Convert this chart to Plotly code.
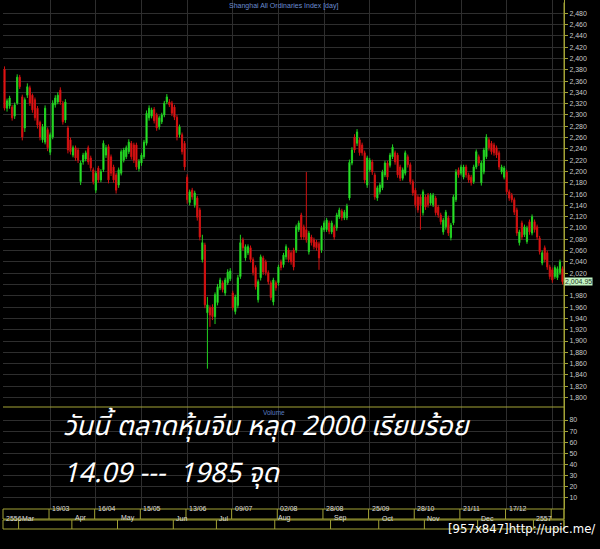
import pandas as pd
import plotly.graph_objects as go

# ---------------- data ----------------
HOLIDAYS = ['2013-04-04', '2013-04-05', '2013-04-29', '2013-04-30', '2013-05-01',
            '2013-06-10', '2013-06-11', '2013-06-12', '2013-09-19', '2013-09-20',
            '2013-10-01', '2013-10-02', '2013-10-03', '2013-10-04', '2013-10-07',
            '2014-01-01']
DATES = [d.strftime('%Y-%m-%d') for d in pd.bdate_range('2013-02-21', '2014-01-17')
         if d.strftime('%Y-%m-%d') not in HOLIDAYS]

OPEN = [2381, 2312, 2316, 2314, 2298, 2321, 2367, 2332, 2277, 2335,
        2348, 2335, 2327, 2312, 2287, 2256, 2252, 2274, 2234, 2261,
        2318, 2323, 2344, 2321, 2291, 2277, 2256, 2229, 2242, 2238,
        2182, 2217, 2222, 2242, 2224, 2203, 2167, 2206, 2185, 2203,
        2229, 2244, 2226, 2208, 2194, 2176, 2197, 2220, 2226, 2235,
        2250, 2247, 2247, 2205, 2215, 2226, 2250, 2295, 2298, 2310,
        2300, 2279, 2288, 2300, 2323, 2323, 2321, 2314, 2296, 2265,
        2265, 2250, 2190, 2145, 2167, 2141, 2153, 2132, 2044, 2070,
        1950, 1959, 1960, 1943, 1968, 1994, 2003, 1985, 2003, 2010,
        1985, 1952, 1963, 2014, 2079, 2047, 2056, 2065, 2044, 2030,
        1973, 2012, 2047, 2040, 2021, 2003, 1969, 2003, 2003, 2040,
        2035, 2049, 2061, 2056, 2061, 2061, 2097, 2123, 2102, 2097,
        2058, 2084, 2079, 2075, 2072, 2061, 2097, 2097, 2109, 2093,
        2102, 2100, 2120, 2130, 2118, 2118, 2153, 2215, 2261, 2250,
        2256, 2247, 2233, 2176, 2203, 2217, 2194, 2153, 2164, 2171,
        2194, 2215, 2211, 2226, 2233, 2229, 2208, 2188, 2197, 2226,
        2212, 2182, 2167, 2155, 2155, 2127, 2155, 2158, 2144, 2141,
        2153, 2137, 2123, 2093, 2102, 2118, 2083, 2109, 2150, 2203,
        2197, 2190, 2208, 2194, 2190, 2182, 2208, 2226, 2180, 2199,
        2226, 2256, 2250, 2247, 2242, 2233, 2199, 2190, 2199, 2164,
        2158, 2150, 2132, 2074, 2109, 2088, 2076, 2111, 2091, 2111,
        2102, 2082, 2038, 2065, 2056, 2031, 2026, 2014, 2012, 2021,
        2028]
HIGH = [2386, 2329, 2334, 2318, 2322, 2372, 2371, 2336, 2331, 2356,
        2352, 2338, 2331, 2316, 2290, 2284, 2317, 2278, 2269, 2326,
        2335, 2340, 2349, 2325, 2328, 2281, 2260, 2246, 2246, 2242,
        2219, 2233, 2237, 2246, 2228, 2207, 2201, 2210, 2204, 2255,
        2247, 2248, 2230, 2212, 2198, 2207, 2239, 2242, 2246, 2257,
        2254, 2251, 2251, 2222, 2233, 2256, 2308, 2317, 2313, 2314,
        2304, 2299, 2304, 2325, 2337, 2328, 2325, 2318, 2300, 2283,
        2269, 2254, 2195, 2168, 2171, 2166, 2157, 2136, 2088, 2074,
        1978, 1963, 1965, 1986, 2001, 2012, 2007, 2012, 2027, 2029,
        1989, 1982, 2017, 2088, 2083, 2071, 2071, 2069, 2048, 2034,
        2009, 2053, 2051, 2044, 2025, 2007, 2012, 2007, 2035, 2044,
        2056, 2071, 2065, 2060, 2065, 2106, 2113, 2127, 2106, 2199,
        2095, 2088, 2083, 2079, 2076, 2104, 2113, 2118, 2113, 2113,
        2106, 2127, 2136, 2134, 2132, 2143, 2221, 2243, 2266, 2275,
        2260, 2251, 2237, 2228, 2224, 2221, 2198, 2175, 2180, 2203,
        2219, 2219, 2233, 2248, 2237, 2233, 2212, 2207, 2237, 2230,
        2216, 2186, 2171, 2159, 2159, 2168, 2159, 2162, 2162, 2162,
        2157, 2141, 2127, 2118, 2132, 2122, 2109, 2159, 2204, 2207,
        2212, 2212, 2212, 2198, 2194, 2212, 2239, 2230, 2219, 2242,
        2266, 2260, 2254, 2251, 2246, 2237, 2212, 2210, 2203, 2168,
        2162, 2154, 2136, 2097, 2113, 2106, 2104, 2115, 2124, 2115,
        2106, 2086, 2060, 2069, 2060, 2035, 2030, 2034, 2032, 2044,
        2032]
LOW = [2308, 2306, 2311, 2290, 2293, 2318, 2346, 2255, 2270, 2330,
       2316, 2304, 2290, 2276, 2255, 2251, 2248, 2236, 2229, 2257,
       2313, 2319, 2318, 2283, 2286, 2232, 2230, 2225, 2219, 2215,
       2176, 2212, 2218, 2212, 2201, 2177, 2162, 2180, 2181, 2199,
       2224, 2179, 2192, 2180, 2161, 2171, 2193, 2216, 2222, 2231,
       2221, 2215, 2203, 2200, 2210, 2222, 2246, 2290, 2294, 2285,
       2272, 2274, 2284, 2296, 2319, 2314, 2298, 2291, 2255, 2260,
       2230, 2202, 2143, 2140, 2150, 2136, 2113, 2078, 2039, 1958,
       1851, 1925, 1937, 1930, 1963, 1990, 1986, 1980, 1999, 2006,
       1954, 1947, 1958, 2010, 2060, 2042, 2052, 2039, 2016, 1991,
       1968, 2007, 2017, 2016, 2000, 1972, 1963, 1989, 1998, 2025,
       2030, 2044, 2039, 2035, 2025, 2056, 2093, 2079, 2079, 2074,
       2053, 2069, 2062, 2060, 2026, 2056, 2093, 2093, 2089, 2089,
       2079, 2095, 2116, 2113, 2114, 2114, 2149, 2211, 2233, 2245,
       2228, 2228, 2179, 2171, 2199, 2194, 2150, 2148, 2160, 2167,
       2190, 2185, 2207, 2222, 2212, 2189, 2183, 2184, 2193, 2207,
       2177, 2157, 2136, 2127, 2097, 2122, 2132, 2136, 2140, 2137,
       2122, 2118, 2106, 2088, 2097, 2086, 2078, 2105, 2146, 2189,
       2193, 2186, 2189, 2180, 2175, 2178, 2204, 2210, 2175, 2195,
       2222, 2237, 2230, 2228, 2224, 2203, 2195, 2186, 2159, 2148,
       2145, 2123, 2086, 2069, 2079, 2084, 2072, 2088, 2087, 2092,
       2079, 2053, 2034, 2039, 2026, 2009, 2003, 2010, 2008, 2017,
       2000]
CLOSE = [2312, 2325, 2330, 2295, 2318, 2367, 2350, 2261, 2327, 2350,
         2321, 2309, 2295, 2282, 2261, 2279, 2312, 2242, 2265, 2321,
         2330, 2335, 2323, 2288, 2323, 2238, 2235, 2242, 2224, 2220,
         2215, 2229, 2233, 2217, 2206, 2182, 2197, 2185, 2200, 2250,
         2242, 2185, 2197, 2185, 2167, 2203, 2235, 2238, 2242, 2252,
         2226, 2220, 2208, 2218, 2229, 2252, 2303, 2312, 2309, 2290,
         2277, 2295, 2300, 2321, 2332, 2318, 2303, 2296, 2261, 2279,
         2235, 2208, 2150, 2164, 2155, 2162, 2119, 2084, 2074, 1964,
         1964, 1946, 1943, 1982, 1996, 2008, 1991, 2008, 2022, 2024,
         1959, 1978, 2012, 2074, 2065, 2067, 2067, 2044, 2021, 1996,
         2005, 2049, 2022, 2021, 2005, 1977, 2008, 1994, 2031, 2030,
         2052, 2067, 2044, 2040, 2031, 2102, 2109, 2084, 2084, 2079,
         2091, 2074, 2067, 2065, 2047, 2100, 2109, 2114, 2094, 2109,
         2084, 2123, 2132, 2118, 2128, 2139, 2216, 2238, 2238, 2270,
         2233, 2233, 2185, 2224, 2220, 2199, 2155, 2171, 2176, 2199,
         2215, 2190, 2229, 2243, 2217, 2194, 2188, 2203, 2233, 2212,
         2182, 2162, 2141, 2132, 2141, 2164, 2137, 2141, 2158, 2158,
         2127, 2123, 2111, 2114, 2128, 2091, 2105, 2155, 2199, 2194,
         2208, 2208, 2194, 2185, 2180, 2208, 2235, 2215, 2215, 2238,
         2261, 2242, 2235, 2233, 2229, 2208, 2208, 2206, 2164, 2153,
         2150, 2128, 2091, 2093, 2084, 2102, 2100, 2093, 2120, 2097,
         2084, 2058, 2056, 2044, 2031, 2014, 2008, 2030, 2028, 2040,
         2005]
LAST_PRICE = 2004.95

PRICE_TICKS = list(range(1800, 2500, 20))
PRICE_TICKTEXT = ['' if v == 2000 else f'{v:,}' for v in PRICE_TICKS]  # hidden behind last-price tag
VOLUME_TICKS = [10, 20, 30, 40, 50, 60, 70, 80]
DAY_TICKS = ['2013-03-19', '2013-04-16', '2013-05-15', '2013-06-13', '2013-07-09',
             '2013-08-02', '2013-08-28', '2013-09-25', '2013-10-28', '2013-11-21',
             '2013-12-17', '2014-01-13']
DAY_LABELS = ['19/03', '16/04', '15/05', '13/06', '09/07', '02/08', '28/08',
              '25/09', '28/10', '21/11', '17/12', '']
MONTH_TICKS = ['2013-03-01', '2013-04-01', '2013-05-02', '2013-06-03', '2013-07-01',
               '2013-08-01', '2013-09-02', '2013-10-08', '2013-11-01', '2013-12-02',
               '2014-01-02']
MONTH_LABELS = ['Mar', 'Apr', 'May', 'Jun', 'Jul', 'Aug', 'Sep', 'Oct', 'Nov', 'Dec', '2557']
FIRST_YEAR_LABEL = '2556'

TITLE = 'Shanghai All Ordinaries Index [day]'
LINE1 = 'วันนี้ ตลาดหุ้นจีน หลุด 2000 เรียบร้อย'
LINE2 = '14.09 ---  1985 จุด'
WATERMARK = '[957x847]http://upic.me/'

# ---------------- figure ----------------
OLIVE = '#a3a336'
GRID = '#2e2e2e'
TICKTXT = '#c8c8c8'
SPLIT = 0.2004          # volume/price boundary in paper units
LABEL_FONT = dict(size=7, color='#dcdcdc', family='Liberation Sans')
THAI_FONT = dict(size=27, color='white',
                 family='Noto Sans Thai, Noto Sans, DejaVu Sans, sans-serif')

fig = go.Figure()
fig.add_trace(go.Candlestick(
    x=DATES, open=OPEN, high=HIGH, low=LOW, close=CLOSE,
    increasing=dict(line=dict(color='#20d020', width=1), fillcolor='#3cff3c'),
    decreasing=dict(line=dict(color='#d01010', width=1), fillcolor='#ff1e1e'),
    whiskerwidth=0, xaxis='x', yaxis='y', hoverinfo='skip'))
# empty volume pane (no volume data shown in the reference)
fig.add_trace(go.Scatter(x=[], y=[], xaxis='x', yaxis='y2', mode='lines',
                         hoverinfo='skip'))

idx = {d: i for i, d in enumerate(DATES)}
n = len(DATES)

shapes = []
annotations = []

# pane separator
shapes.append(dict(type='line', xref='paper', yref='paper', x0=0, x1=1,
                   y0=SPLIT, y1=SPLIT, line=dict(color=OLIVE, width=1.2)))
# date rows
R1T, R1B = 0.0, -0.0197
R2T, R2B = -0.0216, -0.0393
for (t, b) in [(R1T, R1B), (R2T, R2B)]:
    shapes.append(dict(type='rect', xref='paper', yref='paper', x0=0, x1=1,
                       y0=b, y1=t, line=dict(color=OLIVE, width=1)))
for d, lab in zip(DAY_TICKS, DAY_LABELS):
    xpos = idx[d] - 0.45
    shapes.append(dict(type='line', xref='x', yref='paper', x0=xpos, x1=xpos,
                       y0=R1B, y1=R1T, line=dict(color=OLIVE, width=1)))
    if lab:
        annotations.append(dict(x=xpos, y=(R1T + R1B) / 2, xref='x', yref='paper',
                                text=lab, showarrow=False, xanchor='left', xshift=1,
                                font=LABEL_FONT))
annotations.append(dict(x=0, y=(R2T + R2B) / 2, xref='paper', yref='paper',
                        text=FIRST_YEAR_LABEL, showarrow=False, xanchor='left', xshift=1,
                        font=LABEL_FONT))
for d, lab in zip(MONTH_TICKS, MONTH_LABELS):
    xpos = idx[d] - 0.45
    shapes.append(dict(type='line', xref='x', yref='paper', x0=xpos, x1=xpos,
                       y0=R2B, y1=R2T, line=dict(color=OLIVE, width=1)))
    annotations.append(dict(x=xpos, y=(R2T + R2B) / 2, xref='x', yref='paper',
                            text=lab, showarrow=False, xanchor='left', xshift=1,
                            font=LABEL_FONT))

# texts
annotations += [
    dict(x=0.5, y=1.0, xref='paper', yref='paper', text=TITLE, showarrow=False,
         yanchor='top', font=dict(size=7, color='#6a8cd0', family='Liberation Sans')),
    dict(x=0.483, y=SPLIT, xref='paper', yref='paper', text='Volume', showarrow=False,
         yanchor='top', yshift=-1, borderpad=0,
         font=dict(size=6.5, color='#5a7cc0', family='Liberation Sans')),
    dict(x=1, y=LAST_PRICE, xref='paper', yref='y', text='2,004.95', showarrow=False,
         xanchor='left', bgcolor='#c4f5c4', borderpad=0,
         font=dict(size=7, color='#2a3a2a', family='Liberation Sans')),
    dict(x=0.104, y=0.118, xref='paper', yref='paper', text='<i>' + LINE1 + '</i>',
         showarrow=False, xanchor='left', font=THAI_FONT),
    dict(x=0.104, y=0.025, xref='paper', yref='paper', text='<i>' + LINE2 + '</i>',
         showarrow=False, xanchor='left', font=THAI_FONT),
    dict(x=1.0588, y=-0.057, xref='paper', yref='paper', text=WATERMARK,
         showarrow=False, xanchor='right',
         font=dict(size=13, color='white', family='DejaVu Sans Condensed, DejaVu Sans')),
]
# right axis line continued through the date rows
shapes.append(dict(type='line', xref='paper', yref='paper', x0=1, x1=1,
                   y0=R2B, y1=0.995, line=dict(color=OLIVE, width=1)))

fig.update_layout(
    width=600, height=549,
    margin=dict(l=3, r=36, t=0, b=40),
    paper_bgcolor='black', plot_bgcolor='black',
    showlegend=False, boxgap=0.35, hovermode=False,
    xaxis=dict(type='category', domain=[0, 1], anchor='y2', range=[-0.6, n - 0.4],
               tickvals=DAY_TICKS, showticklabels=False, ticks='', showgrid=True,
               gridcolor=GRID, gridwidth=1, zeroline=False, showline=False,
               rangeslider=dict(visible=False), fixedrange=True),
    yaxis=dict(domain=[SPLIT, 1], anchor='x', side='right', range=[1783.2, 2503.5],
               tickvals=PRICE_TICKS, ticktext=PRICE_TICKTEXT, ticks='outside', ticklen=3,
               tickcolor=OLIVE, showline=True, linecolor=OLIVE, linewidth=1,
               showgrid=True, gridcolor=GRID, zeroline=False,
               tickfont=dict(size=7, color=TICKTXT, family='Liberation Sans'),
               fixedrange=True),
    yaxis2=dict(domain=[0, SPLIT], anchor='x', side='right', range=[0, 91.7],
                tickvals=VOLUME_TICKS, ticks='outside', ticklen=3, tickcolor=OLIVE,
                showline=True, linecolor=OLIVE, linewidth=1, showgrid=True,
                gridcolor=GRID, zeroline=False,
                tickfont=dict(size=7, color=TICKTXT, family='Liberation Sans'),
                fixedrange=True),
    shapes=shapes, annotations=annotations,
)

fig.write_html("out.html",
               config={'displayModeBar': False, 'staticPlot': True},
               post_script="document.body.style.margin='0';"
                           "document.body.style.overflow='hidden';"
                           "document.body.style.background='black';")
